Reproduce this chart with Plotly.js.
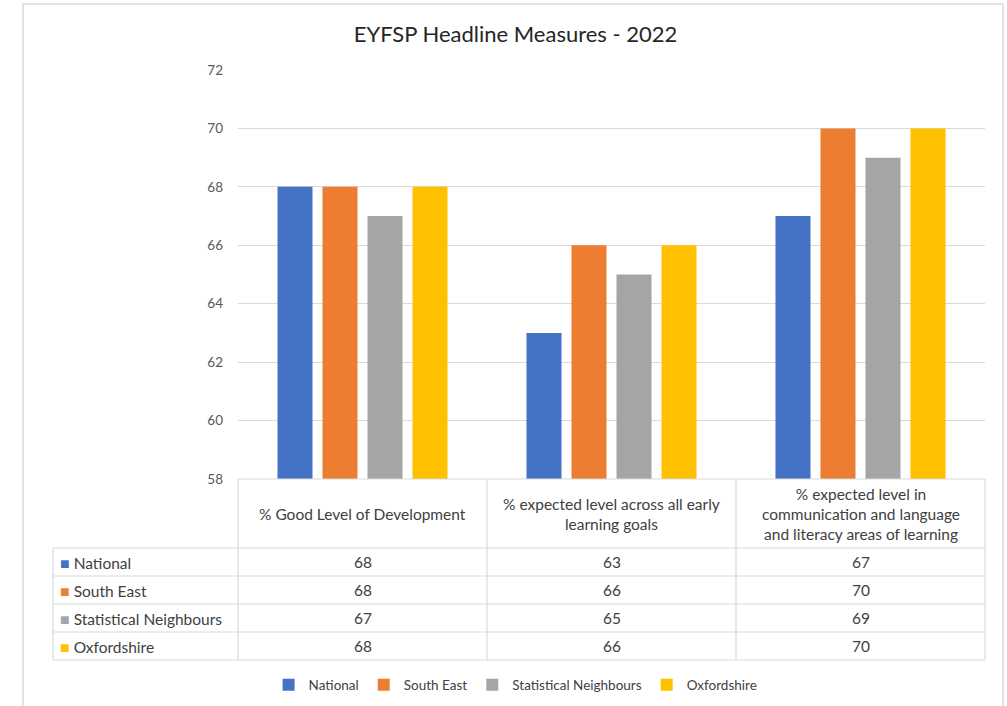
<!DOCTYPE html>
<html>
<head>
<meta charset="utf-8">
<script src="https://cdn.plot.ly/plotly-3.0.1.min.js"></script>
<style>html,body{margin:0;padding:0;background:#fff;}#chart{width:1007px;height:706px;}</style>
</head>
<body>
<div id="chart"></div>
<script>
// ---- data ----
const categories = [
  "% Good Level of Development",
  "% expected level across all early learning goals",
  "% expected level in communication and language and literacy areas of learning"
];
const headerLabels = [
  "% Good Level of Development",
  "% expected level across all early<br>learning goals",
  "% expected level in<br>communication and language<br>and literacy areas of learning"
];
const seriesNames = ["National", "South East", "Statistical Neighbours", "Oxfordshire"];
const national = [68, 63, 67];
const southEast = [68, 66, 70];
const statNeighbours = [67, 65, 69];
const oxfordshire = [68, 66, 70];
const seriesValues = [national, southEast, statNeighbours, oxfordshire];
const seriesColors = ["#4472C4", "#ED7D31", "#A5A5A5", "#FFC000"];

// ---- layout helpers ----
const W = 1007, H = 706;
const px = x => x / W;
const py = y => 1 - y / H;
const FONT = "Lato, 'Liberation Sans', sans-serif";
const txtColor = "#404040";
const gridCol = "#d9d9d9";

const traces = seriesNames.map((n, i) => ({
  type: "bar",
  name: n,
  x: categories,
  y: seriesValues[i],
  marker: {color: seriesColors[i]},
  hoverinfo: "skip"
}));

// table geometry (pixels)
const tblLeft = 53, plotLeft = 238, plotRight = 985;
const colEdges = [238, 487, 736, 985];
const headTop = 479, headBottom = 548;
const rowEdges = [548, 576, 604, 632, 660];

const shapes = [];
// outer chart frame
shapes.push({type: "rect", xref: "paper", yref: "paper", x0: px(23), x1: px(1003), y0: py(4), y1: py(712),
  line: {color: "#d9d9d9", width: 1.5}, fillcolor: "rgba(0,0,0,0)", layer: "below"});
// vertical lines
colEdges.forEach(x => shapes.push({type: "line", xref: "paper", yref: "paper", x0: px(x), x1: px(x), y0: py(headTop), y1: py(rowEdges[4]), line: {color: gridCol, width: 1.2}}));
shapes.push({type: "line", xref: "paper", yref: "paper", x0: px(tblLeft), x1: px(tblLeft), y0: py(headBottom), y1: py(rowEdges[4]), line: {color: gridCol, width: 1.2}});
// horizontal lines
shapes.push({type: "line", xref: "paper", yref: "paper", x0: px(plotLeft), x1: px(plotRight), y0: py(headTop), y1: py(headTop), line: {color: gridCol, width: 1.2}});
rowEdges.forEach(y => shapes.push({type: "line", xref: "paper", yref: "paper", x0: px(tblLeft), x1: px(plotRight), y0: py(y), y1: py(y), line: {color: gridCol, width: 1.2}}));

const TSIZE = 15.5;
const annotations = [];
// header texts
categories.forEach((c, j) => annotations.push({
  xref: "x", yref: "paper", x: c, y: py((headTop + headBottom) / 2), text: headerLabels[j],
  showarrow: false, xanchor: "center", yanchor: "middle", align: "center",
  font: {family: FONT, size: TSIZE, color: txtColor}
}));
// row labels and values
seriesNames.forEach((n, i) => {
  const yc = py((rowEdges[i] + rowEdges[i + 1]) / 2);
  annotations.push({
    xref: "paper", yref: "paper", x: px(58), y: yc, xanchor: "left", yanchor: "middle",
    text: "<span style='color:" + seriesColors[i] + ";font-size:16px'>■</span> " + n,
    showarrow: false, font: {family: FONT, size: TSIZE, color: txtColor}
  });
  categories.forEach((c, j) => annotations.push({
    xref: "x", yref: "paper", x: c, y: yc, xanchor: "center", yanchor: "middle",
    text: String(seriesValues[i][j]), showarrow: false,
    font: {family: FONT, size: TSIZE, color: txtColor}
  }));
});

const layout = {
  width: W, height: H,
  margin: {l: 0, r: 0, t: 0, b: 0},
  paper_bgcolor: "#ffffff", plot_bgcolor: "#ffffff",
  font: {family: FONT, color: "#595959"},
  title: {text: "EYFSP Headline Measures - 2022", x: 0.512, xanchor: "center", y: py(34), yanchor: "middle",
    font: {family: FONT, size: 22, color: "#262626"}},
  barmode: "group",
  bargap: 0.277,
  bargroupgap: 0.222,
  xaxis: {domain: [px(plotLeft), px(plotRight)], type: "category", showticklabels: false,
    showgrid: false, zeroline: false, showline: false, ticks: "", fixedrange: true},
  yaxis: {domain: [py(headTop), py(70)], range: [58, 72], dtick: 2, tick0: 58,
    showgrid: true, gridcolor: gridCol, gridwidth: 1.2, zeroline: false, showline: false,
    ticks: "", ticklabelstandoff: 14,
    tickfont: {family: FONT, size: 13.5, color: "#595959"}, fixedrange: true},
  showlegend: true,
  legend: {orientation: "h", x: 0.512, xanchor: "center", y: py(685), yanchor: "middle",
    font: {family: FONT, size: 13.5, color: txtColor}, itemwidth: 30, bgcolor: "rgba(0,0,0,0)"},
  shapes: shapes,
  annotations: annotations
};

Plotly.newPlot("chart", traces, layout, {displayModeBar: false, staticPlot: true});
</script>
</body>
</html>
